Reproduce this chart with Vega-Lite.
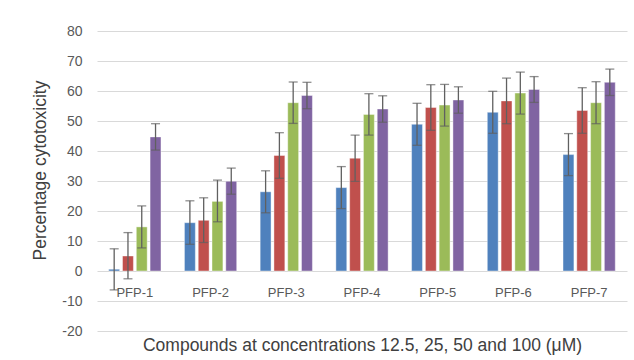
{
  "$schema": "https://vega.github.io/schema/vega-lite/v6.json",
  "width": 530,
  "height": 300,
  "autosize": "none",
  "padding": {"left": 97, "top": 31, "right": 7, "bottom": 29},
  "background": "white",
  "config": {
    "view": {"stroke": null},
    "font": "Liberation Sans",
    "axisY": {
      "values": [-20, -10, 0, 10, 20, 30, 40, 50, 60, 70, 80],
      "labelExpr": "'' + datum.value",
      "labelOverlap": false,
      "domain": false,
      "ticks": false,
      "grid": true,
      "gridColor": "#d9d9d9",
      "gridWidth": 1,
      "labelFontSize": 14,
      "labelColor": "#595959",
      "labelPadding": 15,
      "titleFontSize": 17.5,
      "titleFontWeight": "normal",
      "titleColor": "#404040",
      "titlePadding": 12,
      "titleY": 139
    }
  },
  "data": {
    "values": [
      {"compound": "PFP-1", "conc": "12.5", "value": 0.6, "lo": -6.3, "hi": 7.4},
      {"compound": "PFP-1", "conc": "25", "value": 5.0, "lo": -2.6, "hi": 12.8},
      {"compound": "PFP-1", "conc": "50", "value": 14.7, "lo": 7.7, "hi": 21.7},
      {"compound": "PFP-1", "conc": "100", "value": 44.7, "lo": 40.3, "hi": 49.1},
      {"compound": "PFP-2", "conc": "12.5", "value": 16.1, "lo": 8.9, "hi": 23.4},
      {"compound": "PFP-2", "conc": "25", "value": 16.9, "lo": 9.5, "hi": 24.4},
      {"compound": "PFP-2", "conc": "50", "value": 23.2, "lo": 16.4, "hi": 30.3},
      {"compound": "PFP-2", "conc": "100", "value": 29.9, "lo": 25.6, "hi": 34.3},
      {"compound": "PFP-3", "conc": "12.5", "value": 26.4, "lo": 19.4, "hi": 33.4},
      {"compound": "PFP-3", "conc": "25", "value": 38.5, "lo": 30.9, "hi": 46.1},
      {"compound": "PFP-3", "conc": "50", "value": 56.1, "lo": 49.2, "hi": 63.0},
      {"compound": "PFP-3", "conc": "100", "value": 58.5, "lo": 54.1, "hi": 62.9},
      {"compound": "PFP-4", "conc": "12.5", "value": 27.8, "lo": 20.8, "hi": 34.8},
      {"compound": "PFP-4", "conc": "25", "value": 37.6, "lo": 29.9, "hi": 45.3},
      {"compound": "PFP-4", "conc": "50", "value": 52.2, "lo": 45.3, "hi": 59.1},
      {"compound": "PFP-4", "conc": "100", "value": 54.0, "lo": 49.6, "hi": 58.4},
      {"compound": "PFP-5", "conc": "12.5", "value": 48.9, "lo": 41.9, "hi": 55.9},
      {"compound": "PFP-5", "conc": "25", "value": 54.5, "lo": 46.9, "hi": 62.1},
      {"compound": "PFP-5", "conc": "50", "value": 55.3, "lo": 48.3, "hi": 62.2},
      {"compound": "PFP-5", "conc": "100", "value": 57.0, "lo": 52.6, "hi": 61.4},
      {"compound": "PFP-6", "conc": "12.5", "value": 52.9, "lo": 45.9, "hi": 59.9},
      {"compound": "PFP-6", "conc": "25", "value": 56.7, "lo": 49.1, "hi": 64.3},
      {"compound": "PFP-6", "conc": "50", "value": 59.3, "lo": 52.3, "hi": 66.3},
      {"compound": "PFP-6", "conc": "100", "value": 60.5, "lo": 56.2, "hi": 64.8},
      {"compound": "PFP-7", "conc": "12.5", "value": 38.8, "lo": 31.8, "hi": 45.8},
      {"compound": "PFP-7", "conc": "25", "value": 53.5, "lo": 45.9, "hi": 61.1},
      {"compound": "PFP-7", "conc": "50", "value": 56.1, "lo": 49.1, "hi": 63.1},
      {"compound": "PFP-7", "conc": "100", "value": 62.9, "lo": 58.5, "hi": 67.3}
    ]
  },
  "encoding": {
    "x": {
      "field": "compound",
      "type": "nominal",
      "sort": null,
      "scale": {"paddingInner": 0.31, "paddingOuter": 0.155},
      "axis": {
        "orient": "bottom",
        "offset": -60,
        "domain": false,
        "ticks": false,
        "labelAngle": 0,
        "labelFontSize": 13,
        "labelColor": "#595959",
        "labelPadding": 15,
        "title": "Compounds at concentrations 12.5, 25, 50 and 100 (μM)",
        "titleFontSize": 17.5,
        "titleFontWeight": "normal",
        "titleColor": "#404040",
        "titlePadding": 37
      }
    },
    "xOffset": {
      "field": "conc",
      "type": "nominal",
      "sort": ["12.5", "25", "50", "100"],
      "scale": {"paddingInner": 0.21}
    }
  },
  "layer": [
    {
      "mark": {"type": "bar", "stroke": "white", "strokeOpacity": 0.5, "strokeWidth": 0.8},
      "encoding": {
        "y": {
          "field": "value",
          "type": "quantitative",
          "scale": {"domain": [-20, 80], "nice": false, "zero": false},
          "title": "Percentage cytotoxicity"
        },
        "color": {
          "field": "conc",
          "type": "nominal",
          "sort": ["12.5", "25", "50", "100"],
          "scale": {"range": ["#4F81BD", "#C0504D", "#9BBB59", "#8064A2"]},
          "legend": null
        }
      }
    },
    {
      "mark": {"type": "rule", "color": "#606060", "strokeWidth": 1.3},
      "encoding": {
        "y": {"field": "lo", "type": "quantitative", "title": "Percentage cytotoxicity"},
        "y2": {"field": "hi"}
      }
    },
    {
      "mark": {"type": "tick", "color": "#606060", "thickness": 1.3, "size": 9, "orient": "horizontal"},
      "encoding": {
        "y": {"field": "hi", "type": "quantitative", "title": "Percentage cytotoxicity"}
      }
    },
    {
      "mark": {"type": "tick", "color": "#606060", "thickness": 1.3, "size": 9, "orient": "horizontal"},
      "encoding": {
        "y": {"field": "lo", "type": "quantitative", "title": "Percentage cytotoxicity"}
      }
    }
  ]
}
